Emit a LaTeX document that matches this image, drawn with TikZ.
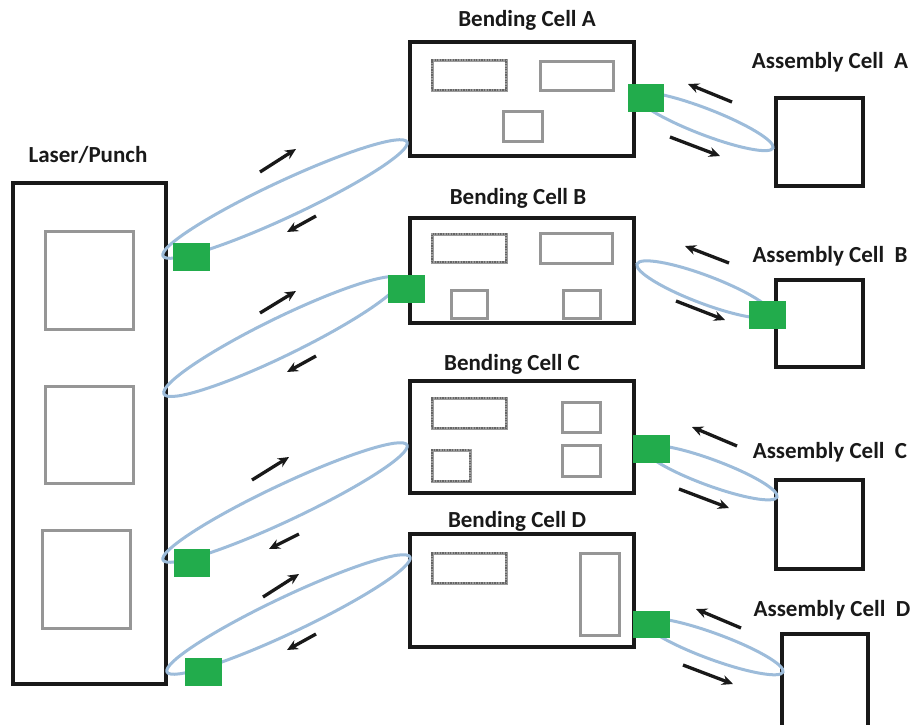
\documentclass[tikz,border=0pt]{standalone}
\usepackage{fontspec}
\setmainfont{Carlito}
\usetikzlibrary{arrows.meta,calc,fit}
\definecolor{cellgreen}{RGB}{34,172,76}
\definecolor{loopblue}{RGB}{157,188,218}
\definecolor{innergray}{RGB}{150,150,150}
\newcommand\loopell[3][15]{%
  \draw[loopline] let \p1=(#2), \p2=(#3),
    \n1={atan2(\y2-\y1,\x2-\x1)}, \n2={veclen(\x2-\x1,\y2-\y1)/2} in
    ($(\p1)!0.5!(\p2)$) ellipse [x radius=\n2, y radius=#1pt, rotate=\n1];}
\newcommand\flowarrow[3]{%
  \coordinate (#1-s) at #2; \coordinate (#1-e) at #3;
  \draw[flow] (#1-s) -- (#1-e);}
\begin{document}
\begin{tikzpicture}[x=1pt,y=-1pt,
  box/.style={draw=black!90, line width=3.4pt, inner sep=0pt, fit={#1}},
  inner/.style={draw=innergray, line width=3pt, inner sep=0pt, fit={#1}},
  innerdash/.style={draw=innergray!95, line width=3pt, inner sep=0pt, fit={#1},
     postaction={draw=black!60, line width=1.3pt, dash pattern=on 1.3pt off 1.3pt}},
  gsq/.style={fill=cellgreen, draw=none, inner sep=0pt, fit={#1}},
  loopline/.style={draw=loopblue, line width=3pt},
  flow/.style={draw=black!90, line width=3.3pt, -{Stealth[length=11pt,width=10pt]}},
  lbl/.style={font=\bfseries\fontsize{23}{27}\selectfont, anchor=base, inner sep=0pt, text=black!90}]
\useasboundingbox (0,0) rectangle (915,724);
\clip (0,0) rectangle (915,724);

% labels
\node[lbl] (tL) at (88,162) {Laser/Punch};
\node[lbl] (tBA) at (527,26) {Bending Cell A};
\node[lbl] (tBB) at (518,204) {Bending Cell B};
\node[lbl] (tBC) at (512,370) {Bending Cell C};
\node[lbl] (tBD) at (517,527) {Bending Cell D};
\node[lbl] (tAA) at (830,68) {Assembly Cell\ \ A};
\node[lbl] (tAB) at (830,262) {Assembly Cell\ \ B};
\node[lbl] (tAC) at (830,458) {Assembly Cell\ \ C};
\node[lbl] (tAD) at (832,616) {Assembly Cell\ \ D};

% Laser/Punch
\node[box={(13,183) (166,684)}] (L) {};
\node[inner={(45,231) (133,329)}] (L1) {};
\node[inner={(45,386) (133,483)}] (L2) {};
\node[inner={(42,530) (130,628)}] (L3) {};

% Bending cells
\node[box={(410,42) (634,156)}] (BA) {};
\node[innerdash={(432,60) (506,90)}] (BA1) {};
\node[inner={(540,61) (613,90)}] (BA2) {};
\node[inner={(503,111) (542,141)}] (BA3) {};

\node[box={(410,218) (634,323)}] (BB) {};
\node[innerdash={(432,234) (506,262)}] (BB1) {};
\node[inner={(540,233) (612,263)}] (BB2) {};
\node[inner={(451,290) (487,318)}] (BB3) {};
\node[inner={(563,290) (600,318)}] (BB4) {};

\node[box={(410,381) (634,493)}] (BC) {};
\node[innerdash={(432,398) (506,428)}] (BC1) {};
\node[innerdash={(432,450) (470,481)}] (BC2) {};
\node[inner={(562,402) (600,432)}] (BC3) {};
\node[inner={(562,445) (600,476)}] (BC4) {};

\node[box={(410,534) (634,647)}] (BD) {};
\node[innerdash={(432,553) (506,583)}] (BD1) {};
\node[inner={(580,553) (619,635)}] (BD2) {};

% Assembly cells
\node[box={(776,98) (863,186)}] (AA) {};
\node[box={(776,280) (863,367)}] (AB) {};
\node[box={(776,480) (863,569)}] (AC) {};
\node[box={(782,634) (868,730)}] (AD) {};

% loop tips
\coordinate (e1a) at (163,256); \coordinate (e1b) at (407,142);
\coordinate (e2a) at (164,394); \coordinate (e2b) at (400,279);
\coordinate (e3a) at (163,560); \coordinate (e3b) at (407,445);
\coordinate (e4a) at (167,672); \coordinate (e4b) at (410,557);
\coordinate (r1a) at (636,95);  \coordinate (r1b) at (773,148);
\coordinate (r2a) at (637,264); \coordinate (r2b) at (772,315);
\coordinate (r3a) at (644,448); \coordinate (r3b) at (777,497);
\coordinate (r4a) at (644,621); \coordinate (r4b) at (783,672);

\loopell[18]{e1a}{e1b}
\loopell[19]{e2a}{e2b}
\loopell[18]{e3a}{e3b}
\loopell[18]{e4a}{e4b}
\loopell[13]{r1a}{r1b}
\loopell[14]{r2a}{r2b}
\loopell[13]{r3a}{r3b}
\loopell[13]{r4a}{r4b}

% green transfer stations
\node[gsq={(173,243) (210,271)}] (G1) {};
\node[gsq={(388,275) (425,303)}] (G2) {};
\node[gsq={(174,549) (210,577)}] (G3) {};
\node[gsq={(185,658) (222,686)}] (G4) {};
\node[gsq={(628,84) (664,112)}] (G5) {};
\node[gsq={(749,301) (786,329)}] (G6) {};
\node[gsq={(633,435) (670,463)}] (G7) {};
\node[gsq={(633,611) (670,638)}] (G8) {};

% flow arrows
\flowarrow{a1}{(260,172)}{(296,149)}
\flowarrow{a2}{(316,216)}{(287,232)}
\flowarrow{a3}{(260,313)}{(296,291)}
\flowarrow{a4}{(316,356)}{(287,372)}
\flowarrow{a5}{(252,480)}{(289,457)}
\flowarrow{a6}{(299,534)}{(269,549)}
\flowarrow{a7}{(263,597)}{(299,574)}
\flowarrow{a8}{(316,634)}{(287,650)}
\flowarrow{b1}{(732,102)}{(688,84)}
\flowarrow{b2}{(670,137)}{(720,156)}
\flowarrow{b3}{(729,263)}{(685,246)}
\flowarrow{b4}{(676,301)}{(725,320)}
\flowarrow{b5}{(737,446)}{(692,427)}
\flowarrow{b6}{(679,489)}{(729,508)}
\flowarrow{b7}{(741,628)}{(696,609)}
\flowarrow{b8}{(683,665)}{(733,684)}
\end{tikzpicture}
\end{document}
